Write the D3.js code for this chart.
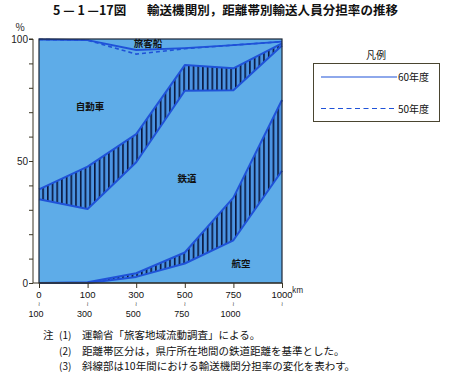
<!DOCTYPE html>
<html><head><meta charset="utf-8">
<script src="https://cdn.jsdelivr.net/npm/d3@7"></script>
<style>
html,body{margin:0;padding:0;background:#fff;}
svg{display:block;font-family:"Noto Sans CJK JP","Noto Sans",sans-serif;}
</style></head>
<body>
<svg id="c" width="459" height="380"></svg>
<script>
// ---- data ----
const categories = ["0","100","300","500","750","1000"];
const categoryTop = ["0","100","300","500","750","1000"];
const categoryBottom = ["100","300","500","750","1000",""];
const yTicks = [0,10,20,30,40,50,60,70,80,90,100];
const yLabels = [0,50,100];
// boundary between 自動車 and 旅客船 (cumulative %)
const ship60 = [99.8, 99.5, 95.5, 96.3, 97.5, 98.9];
const ship50 = [99.8, 99.5, 93.8, 96.0, 97.5, 98.9];
// boundary between 鉄道 and 自動車
const carRail50 = [38.4, 47.7, 61.0, 89.3, 88.0, 98.2];
const carRail60 = [34.3, 30.3, 49.5, 78.8, 79.0, 97.3];
// boundary between 航空 and 鉄道
const railAir50 = [0, 0, 2.5, 8.0, 17.5, 46.0];
const railAir60 = [0, 0.3, 4.0, 12.5, 35.0, 75.0];
const regionLabels = ["旅客船","自動車","鉄道","航空"];
const legendItems = ["60年度","50年度"];
const notes = ["運輸省「旅客地域流動調査」による。","距離帯区分は，県庁所在地間の鉄道距離を基準とした。","斜線部は10年間における輸送機関分担率の変化を表わす。"];

const svg = d3.select("#c");
const L = 39, R = 282, T = 39, B = 283;
const x = d3.scalePoint().domain(categories).range([L, R]);
const y = d3.scaleLinear().domain([0,100]).range([B, T]);

const BG = "#5eace8", EDGE = "#1f52d8", STRIPE = "#08163c", FRAME = "#1d2535", AX = "#3b3524";

// pattern
const defs = svg.append("defs");
const pat = defs.append("pattern").attr("id","hatch").attr("patternUnits","userSpaceOnUse")
  .attr("width",4.7).attr("height",10);
pat.append("rect").attr("width",4.7).attr("height",10).attr("fill","#4b93e2");
pat.append("rect").attr("x",0).attr("width",1.6).attr("height",10).attr("fill",STRIPE);

// title
svg.append("text").attr("x",53).attr("y",15).attr("font-size",12.5).attr("font-weight","bold").attr("fill","#111")
  .text("5 — 1 —17図");
svg.append("text").attr("x",147).attr("y",15).attr("font-size",12.5).attr("font-weight","bold").attr("fill","#111")
  .attr("textLength",251).text("輸送機関別，距離帯別輸送人員分担率の推移");

// plot bg
svg.append("rect").attr("x",L).attr("y",T).attr("width",R-L).attr("height",B-T).attr("fill",BG);

const idx = d3.range(categories.length);
function band(top, bot){
  return d3.area().x(i=>x(categories[i])).y0(i=>y(bot[i])).y1(i=>y(top[i]))(idx);
}
svg.append("path").attr("d",band(carRail50,carRail60)).attr("fill","url(#hatch)");
svg.append("path").attr("d",band(railAir60,railAir50)).attr("fill","url(#hatch)");

const line = arr => d3.line().x(i=>x(categories[i])).y(i=>y(arr[i]))(idx);
[carRail50,carRail60,railAir50,railAir60].forEach(a=>{
  svg.append("path").attr("d",line(a)).attr("fill","none").attr("stroke",EDGE).attr("stroke-width",2).attr("stroke-linejoin","round");
});
svg.append("path").attr("d",line(ship50)).attr("fill","none").attr("stroke",EDGE).attr("stroke-width",1.6).attr("stroke-dasharray","4,3");
svg.append("path").attr("d",line(ship60)).attr("fill","none").attr("stroke",EDGE).attr("stroke-width",1.8);

// frame
svg.append("rect").attr("x",L).attr("y",T).attr("width",R-L).attr("height",B-T).attr("fill","none").attr("stroke",FRAME).attr("stroke-width",1.2);

// region labels
const lblPos = [[148,47],[90,110],[187,182],[241,267]];
regionLabels.forEach((t,i)=>{
  svg.append("text").attr("x",lblPos[i][0]).attr("y",lblPos[i][1]).attr("text-anchor","middle")
    .attr("font-size",9.5).attr("font-weight","bold").attr("fill","#111").text(t);
});

// y axis
const yAxisG = svg.append("g").attr("transform","translate(33,0)");
yAxisG.call(d3.axisLeft(y).tickValues(yTicks).tickSize(4).tickFormat(d=>yLabels.includes(d)?d:""));
yAxisG.select(".domain").attr("stroke",AX).attr("d",`M-4,${y(100)}H0V${y(0)}`);
yAxisG.selectAll(".tick line").attr("stroke",AX);
yAxisG.selectAll(".tick text").attr("font-size",10).attr("fill","#222").attr("x",-5)
  .attr("font-family","Liberation Sans Narrow, Liberation Sans, sans-serif");
svg.append("text").attr("x",20).attr("y",31).attr("text-anchor","middle").attr("font-size",10).attr("fill","#222").text("%");

// x axis
const xAxisG = svg.append("g").attr("transform",`translate(0,${B})`);
xAxisG.call(d3.axisBottom(x).tickSize(5).tickFormat(""));
xAxisG.select(".domain").attr("stroke",AX).attr("d",`M33,0H${R}`);
xAxisG.selectAll(".tick line").attr("stroke",AX);
const lblFont = "Liberation Sans Narrow, Liberation Sans, sans-serif";
categories.forEach((c,i)=>{
  const cx = x(c);
  svg.append("text").attr("x",cx).attr("y",297.5).attr("text-anchor","middle").attr("font-size",9.5)
    .attr("font-family",lblFont).attr("fill","#111").text(categoryTop[i]);
  svg.append("text").attr("x",cx).attr("y",306).attr("text-anchor","middle").attr("font-size",6)
    .attr("font-family","DejaVu Sans").attr("fill","#333").text("≀");
  if(categoryBottom[i]) svg.append("text").attr("x",cx-3).attr("y",316.5).attr("text-anchor","middle").attr("font-size",9)
    .attr("font-family",lblFont).attr("fill","#111").text(categoryBottom[i]);
});
svg.append("text").attr("x",292).attr("y",293).attr("font-size",7.5).attr("fill","#111").text("km");

// legend
svg.append("text").attr("x",376).attr("y",59).attr("text-anchor","middle").attr("font-size",10).attr("fill","#111").text("凡例");
svg.append("rect").attr("x",313.5).attr("y",63.5).attr("width",126).attr("height",58).attr("fill","none").attr("stroke","#4a4530").attr("stroke-width",1);
legendItems.forEach((t,i)=>{
  const ly = i===0?77:108.5;
  svg.append("line").attr("x1",321).attr("x2",397).attr("y1",ly).attr("y2",ly).attr("stroke",EDGE).attr("stroke-width",1.2)
    .attr("stroke-dasharray",i===0?null:"5,3.5");
  svg.append("text").attr("x",398).attr("y",ly+4).attr("font-size",10).attr("fill","#111").text(t);
});

// notes
svg.append("text").attr("x",43).attr("y",339).attr("font-size",10.5).attr("fill","#111").text("注");
notes.forEach((t,i)=>{
  const ny = 339 + i*15.5;
  svg.append("text").attr("x",59).attr("y",ny).attr("font-size",10).attr("fill","#111").text(`(${i+1})`);
  svg.append("text").attr("x",82).attr("y",ny).attr("font-size",10.5).attr("fill","#111").text(t);
});
</script>
</body></html>
